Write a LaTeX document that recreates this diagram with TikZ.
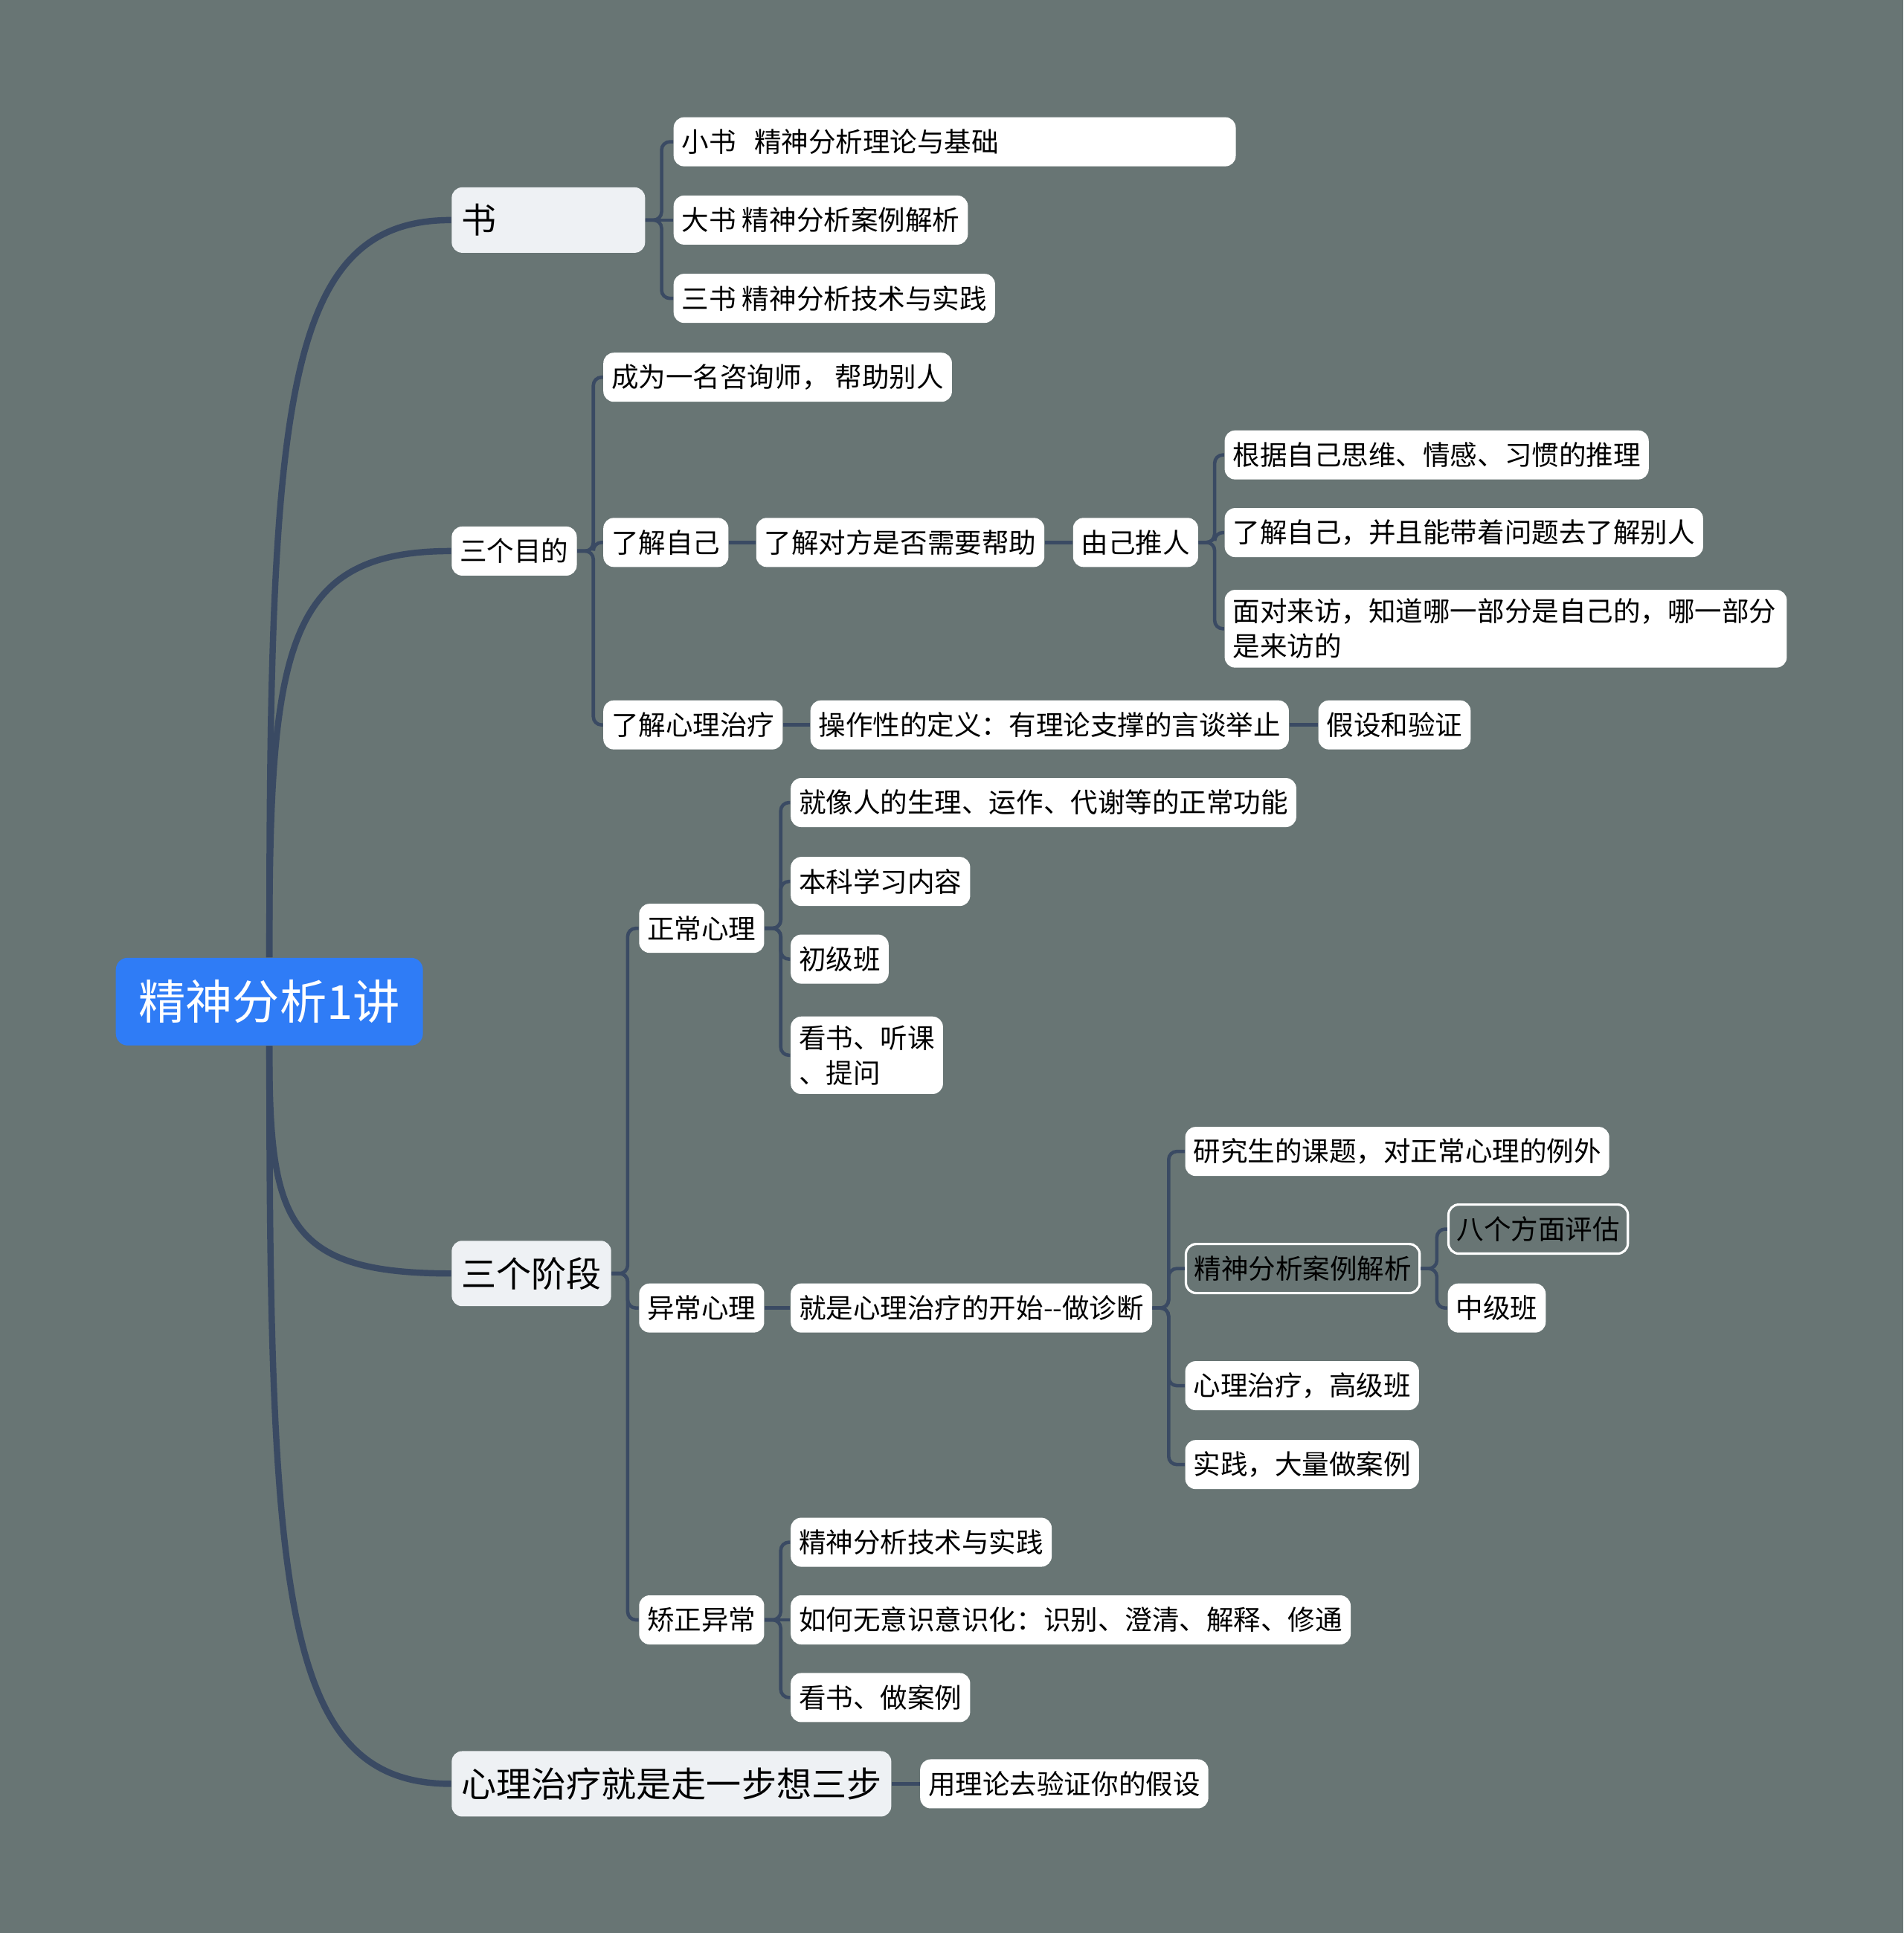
\documentclass[tikz,border=0pt]{standalone}
\usepackage{fontspec}
\setmainfont{Noto Sans CJK SC}
\usetikzlibrary{calc}
\definecolor{bgc}{HTML}{687574}
\definecolor{linec}{HTML}{3A4A63}
\definecolor{rootc}{HTML}{2F7CF6}
\definecolor{topicc}{HTML}{EEF1F4}
\tikzset{
    root/.style={fill=rootc, text=white, rounded corners=1.6mm, minimum width=41.3mm,
        minimum height=11.8mm, inner xsep=3mm, font=\fontsize{18}{22}\selectfont},
    topic/.style={anchor=west, fill=topicc, rounded corners=1.4mm, align=left,
        minimum height=8.8mm, inner xsep=1.3mm, font=\fontsize{13.4}{16}\selectfont},
    leaf/.style={anchor=west, fill=white, rounded corners=1.4mm, align=left,
        minimum height=6.6mm, inner xsep=1.1mm, inner ysep=1.2mm,
        font=\fontsize{10.4}{13.3}\selectfont},
    hilite/.style={leaf, fill=bgc, draw=white, line width=0.9pt},
    branch/.style={draw=linec, line width=2.4pt},
    link/.style={draw=linec, line width=1.3pt, rounded corners=1.1mm},
}

\begin{document}
\begin{tikzpicture}[x=0.1658mm, y=-0.1658mm]
    % Fonas
    \fill[bgc] (0,0) rectangle (1544,1568);
    \useasboundingbox (0,0) rectangle (1544,1568);

    % Centras
    \node[root] (R) at (218.5,812.5) {精神分析1讲};

    % Pagrindinės šakos
    \node[topic, text width=23.4mm] (S) at (366,178.5) {书};
    \node[leaf] (M) at (366,447) {三个目的};
    \node[topic] (J) at (366,1033) {三个阶段};
    \node[topic] (Z) at (366,1447) {心理治疗就是走一步想三步};

    % 书
    \node[leaf, text width=73.4mm] (S1) at (546,115) {小书~~精神分析理论与基础};
    \node[leaf] (S2) at (546,178.5) {大书 精神分析案例解析};
    \node[leaf] (S3) at (546,242) {三书 精神分析技术与实践};

    % 三个目的
    \node[leaf] (M1) at (489,306) {成为一名咨询师， 帮助别人};
    \node[leaf] (M2) at (489,440) {了解自己};
    \node[leaf] (M21) at (613,440) {了解对方是否需要帮助};
    \node[leaf] (M22) at (870,440) {由己推人};
    \node[leaf] (M23) at (993,369) {根据自己思维、情感、习惯的推理};
    \node[leaf] (M24) at (993,432) {了解自己，并且能带着问题去了解别人};
    \node[leaf, text width=73.4mm] (M25) at (993,510) {面对来访，知道哪一部分是自己的，哪一部分\\
        是来访的};
    \node[leaf] (M3) at (489,588) {了解心理治疗};
    \node[leaf] (M31) at (657,588) {操作性的定义：有理论支撑的言谈举止};
    \node[leaf] (M32) at (1069,588) {假设和验证};

    % 三个阶段
    \node[leaf] (J1) at (518,753) {正常心理};
    \node[leaf] (J11) at (641,651) {就像人的生理、运作、代谢等的正常功能};
    \node[leaf] (J12) at (641,715) {本科学习内容};
    \node[leaf] (J13) at (641,778) {初级班};
    \node[leaf] (J14) at (641,856) {看书、听课\\、提问};
    \node[leaf] (J2) at (518,1061) {异常心理};
    \node[leaf] (J21) at (641,1061) {就是心理治疗的开始-{}-做诊断};
    \node[leaf] (J22) at (961,934) {研究生的课题，对正常心理的例外};
    \node[hilite] (J23) at (961,1029) {精神分析案例解析};
    \node[hilite] (J231) at (1174,997) {八个方面评估};
    \node[leaf] (J232) at (1174,1061) {中级班};
    \node[leaf] (J24) at (961,1124) {心理治疗，高级班};
    \node[leaf] (J25) at (961,1188) {实践，大量做案例};
    \node[leaf] (J3) at (518,1314) {矫正异常};
    \node[leaf] (J31) at (641,1251) {精神分析技术与实践};
    \node[leaf] (J32) at (641,1314) {如何无意识意识化：识别、澄清、解释、修通};
    \node[leaf] (J33) at (641,1377) {看书、做案例};

    % 心理治疗就是走一步想三步
    \node[leaf] (Z1) at (746,1447) {用理论去验证你的假设};

    % Šakos iš centro
    \draw[branch] (R.north) .. controls ($(R.north)+(0,-450)$) and ($(S.west)+(-136,0)$) .. (S.west);
    \draw[branch] (R.north) .. controls ($(R.north)+(0,-250)$) and ($(M.west)+(-136,0)$) .. (M.west);
    \draw[branch] (R.south) .. controls ($(R.south)+(0,140)$) and ($(J.west)+(-136,0)$) .. (J.west);
    \draw[branch] (R.south) .. controls ($(R.south)+(0,450)$) and ($(Z.west)+(-136,0)$) .. (Z.west);

    % Jungtys
    \foreach \c in {S1,S3} \draw[link] (S.east) -- ++(13,0) |- (\c.west);
    \draw[link] (S.east) -- (S2.west);

    \foreach \c in {M1,M2,M3} \draw[link] (M.east) -- ++(13,0) |- (\c.west);
    \draw[link] (M2.east) -- (M21.west);
    \draw[link] (M21.east) -- (M22.west);
    \foreach \c in {M23,M24,M25} \draw[link] (M22.east) -- ++(13,0) |- (\c.west);
    \draw[link] (M3.east) -- (M31.west);
    \draw[link] (M31.east) -- (M32.west);

    \foreach \c in {J1,J2,J3} \draw[link] (J.east) -- ++(13,0) |- (\c.west);
    \foreach \c in {J11,J12,J13,J14} \draw[link] (J1.east) -- ++(13,0) |- (\c.west);
    \draw[link] (J2.east) -- (J21.west);
    \foreach \c in {J22,J23,J24,J25} \draw[link] (J21.east) -- ++(13,0) |- (\c.west);
    \foreach \c in {J231,J232} \draw[link] (J23.east) -- ++(13,0) |- (\c.west);
    \foreach \c in {J31,J33} \draw[link] (J3.east) -- ++(13,0) |- (\c.west);
    \draw[link] (J3.east) -- (J32.west);

    \draw[link] (Z.east) -- (Z1.west);
\end{tikzpicture}
\end{document}
